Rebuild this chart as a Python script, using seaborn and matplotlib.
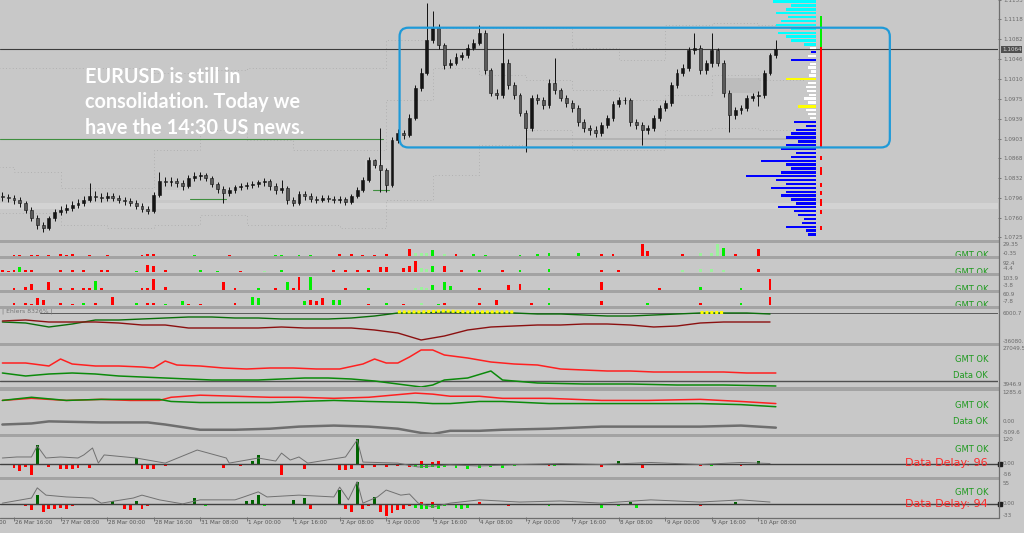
import numpy as np
import pandas as pd
import matplotlib
matplotlib.use("Agg")
import matplotlib.pyplot as plt
from matplotlib.patches import Rectangle, FancyBboxPatch
from matplotlib.lines import Line2D
import seaborn as sns

sns.set_theme(style="white")
plt.rcParams['font.family'] = ['DejaVu Sans']

# ---------------------------------------------------------------- data
time_labels = ["26 Mar 00:00", "26 Mar 16:00", "27 Mar 08:00", "28 Mar 00:00", "28 Mar 16:00",
               "31 Mar 08:00", "1 Apr 00:00", "1 Apr 16:00", "2 Apr 08:00", "3 Apr 00:00",
               "3 Apr 16:00", "4 Apr 08:00", "7 Apr 00:00", "7 Apr 16:00", "8 Apr 08:00",
               "9 Apr 00:00", "9 Apr 16:00", "10 Apr 08:00"]
time_label_bar = [-8, 0, 8, 16, 24, 32, 40, 48, 56, 64, 72, 80, 88, 96, 104, 112, 120, 128]

price_ticks = [1.1153, 1.1118, 1.1082, 1.1046, 1.1010, 1.0975, 1.0939, 1.0903,
               1.0868, 1.0832, 1.0796, 1.0760, 1.0725]
last_price = 1.1064

first_bar = -2
first_open = 1.0800
close = [1.0797, 1.0796, 1.0792, 1.0787, 1.0774, 1.0760, 1.0747, 1.0742, 1.0760, 1.0770,
         1.0774, 1.0778, 1.0783, 1.0787, 1.0792, 1.0799, 1.0797, 1.0796, 1.0799, 1.0796,
         1.0792, 1.0790, 1.0787, 1.0781, 1.0776, 1.0772, 1.0801, 1.0826, 1.0824, 1.0826,
         1.0823, 1.0817, 1.0832, 1.0835, 1.0837, 1.0832, 1.0821, 1.0812, 1.0805, 1.0810,
         1.0815, 1.0817, 1.0819, 1.0821, 1.0824, 1.0826, 1.0817, 1.0810, 1.0814, 1.0792,
         1.0787, 1.0803, 1.0799, 1.0794, 1.0792, 1.0796, 1.0794, 1.0792, 1.0794, 1.0788,
         1.0799, 1.0810, 1.0828, 1.0864, 1.0855, 1.0846, 1.0819, 1.0900, 1.0913, 1.0909,
         1.0941, 1.0994, 1.1022, 1.1080, 1.1102, 1.1071, 1.1035, 1.1040, 1.1051, 1.1053,
         1.1067, 1.1076, 1.1093, 1.1026, 1.0986, 1.0981, 1.1040, 1.0999, 1.0981, 1.0950,
         1.0922, 1.0976, 1.0972, 1.0963, 1.1004, 1.0990, 1.0976, 1.0967, 1.0958, 1.0932,
         1.0922, 1.0918, 1.0913, 1.0927, 1.0940, 1.0965, 1.0972, 1.0972, 1.0932, 1.0927,
         1.0918, 1.0922, 1.0940, 1.0958, 1.0967, 1.0999, 1.1022, 1.1030, 1.1062, 1.1066,
         1.1026, 1.1039, 1.1062, 1.1040, 1.0986, 1.0945, 1.0954, 1.0958, 1.0977, 1.0979,
         1.0981, 1.1022, 1.1053, 1.1064]
high = [1.0806, 1.0803, 1.0801, 1.0797, 1.0790, 1.0779, 1.0765, 1.0752, 1.0764, 1.0776,
        1.0781, 1.0785, 1.0790, 1.0794, 1.0799, 1.0823, 1.0808, 1.0804, 1.0806, 1.0805,
        1.0801, 1.0798, 1.0796, 1.0792, 1.0786, 1.0781, 1.0806, 1.0842, 1.0833, 1.0833,
        1.0832, 1.0828, 1.0838, 1.0842, 1.0843, 1.0841, 1.0836, 1.0825, 1.0817, 1.0816,
        1.0820, 1.0822, 1.0824, 1.0826, 1.0829, 1.0831, 1.0830, 1.0822, 1.0828, 1.0818,
        1.0797, 1.0808, 1.0809, 1.0804, 1.0800, 1.0801, 1.0801, 1.0799, 1.0799, 1.0798,
        1.0803, 1.0815, 1.0833, 1.0869, 1.0866, 1.0922, 1.0850, 1.0905, 1.0920, 1.0919,
        1.0947, 1.1000, 1.1030, 1.1147, 1.1134, 1.1110, 1.1076, 1.1047, 1.1057, 1.1060,
        1.1073, 1.1083, 1.1107, 1.1098, 1.1031, 1.0993, 1.1093, 1.1046, 1.1005, 1.0986,
        1.0955, 1.0982, 1.0984, 1.0978, 1.1010, 1.1049, 1.0995, 1.0982, 1.0973, 1.0963,
        1.0938, 1.0928, 1.0925, 1.0932, 1.0945, 1.0970, 1.0978, 1.0978, 1.0977, 1.0938,
        1.0932, 1.0928, 1.0945, 1.0963, 1.0973, 1.1005, 1.1028, 1.1037, 1.1068, 1.1093,
        1.1071, 1.1045, 1.1094, 1.1067, 1.1045, 1.0990, 1.0960, 1.0964, 1.0982, 1.0985,
        1.0988, 1.1027, 1.1058, 1.1080]
low = [1.0791, 1.0788, 1.0785, 1.0780, 1.0768, 1.0754, 1.0740, 1.0734, 1.0738, 1.0755,
       1.0765, 1.0769, 1.0772, 1.0777, 1.0781, 1.0788, 1.0790, 1.0789, 1.0790, 1.0790,
       1.0786, 1.0784, 1.0781, 1.0776, 1.0770, 1.0767, 1.0768, 1.0798, 1.0817, 1.0818,
       1.0816, 1.0810, 1.0813, 1.0827, 1.0829, 1.0826, 1.0815, 1.0805, 1.0787, 1.0799,
       1.0805, 1.0810, 1.0812, 1.0814, 1.0816, 1.0818, 1.0811, 1.0803, 1.0805, 1.0785,
       1.0781, 1.0783, 1.0793, 1.0789, 1.0787, 1.0788, 1.0789, 1.0787, 1.0787, 1.0783,
       1.0785, 1.0795, 1.0806, 1.0825, 1.0849, 1.0806, 1.0806, 1.0815, 1.0895, 1.0902,
       1.0905, 1.0937, 1.0988, 1.1017, 1.1075, 1.1064, 1.1028, 1.1030, 1.1035, 1.1045,
       1.1048, 1.1062, 1.1071, 1.1020, 1.0980, 1.0974, 1.0976, 1.0993, 1.0975, 1.0944,
       1.0878, 1.0917, 1.0965, 1.0956, 1.0958, 1.0984, 1.0970, 1.0960, 1.0951, 1.0926,
       1.0915, 1.0910, 1.0906, 1.0908, 1.0922, 1.0935, 1.0960, 1.0965, 1.0926, 1.0920,
       1.0891, 1.0912, 1.0917, 1.0935, 1.0952, 1.0962, 1.0994, 1.1016, 1.1025, 1.1055,
       1.1020, 1.1020, 1.1033, 1.1034, 1.0978, 1.0915, 1.0938, 1.0948, 1.0952, 1.0970,
       1.0962, 1.0976, 1.1017, 1.1048]

# step (pivot-like) dotted levels, one per 16h block starting at time_label_bar
dots_upper = [1.1030, 1.1030, 1.1030, 1.1030, 1.1022, 1.1026, 1.1031, 1.1031, 1.1031,
              1.1080, 1.1103, 1.1103, 1.1103, 1.1067, 1.1044, 1.1107, 1.1112, 1.1107]
dots_middle = [1.0851, 1.0842, 1.0814, 1.0814, 1.0882, 1.0918, 1.0900, 1.0882, 1.0882,
               1.0972, 1.1031, 1.1017, 1.1008, 1.0990, 1.0972, 1.0981, 1.1017, 1.1008]
dots_lower = [1.0769, 1.0769, 1.0747, 1.0742, 1.0747, 1.0765, 1.0747, 1.0747, 1.0742,
              1.0792, 1.0837, 1.0891, 1.0918, 1.0882, 1.0882, 1.0918, 1.0922, 1.0918]

support_line = 1.0902          # green line on the left
support_end_bar = 63.5
zone_band = (1.0776, 1.0787)   # light band across the chart
range_box_bars = (66.3, 150.6)
range_box_prices = (1.0887, 1.1103)
text_lines = ["EURUSD is still in", "consolidation. Today we", "have the 14:30 US news."]

# volume profile on the right
profile_top = 1.1150
profile_step = 0.0007
profile_volume = [43, 25, 30, 40, 28, 35, 40, 25, 38, 30, 25, 12, 6, 5, 8, 25, 6, 8, 5, 7,
                  30, 8, 10, 9, 7, 12, 8, 18, 10, 8, 6, 22, 10, 20, 25, 30, 18, 30, 35, 20,
                  25, 55, 30, 25, 35, 70, 40, 30, 45, 30, 35, 25, 20, 38, 22, 18, 12, 14, 30, 10, 8]
profile_kind = "cccccccccccc" + "wbwb" + "wwww" + "y" + "wwwwww" + "y" + "www" + "b" * 30
profile_dots = "...." + "gggggggg" + "r" * 26 + ".." + "r" + ".." + "rr" + ".." + "r" + "." + "r" + "." + "rr" + "." + "r" + "..." + "r"

# small histogram sub-windows: (bar, value, colour code)
p2_bars = [(0, 2, 'r'), (1, 2, 'r'), (3, 2, 'r'), (4, 1, 'r'), (6, 2, 'r'), (8, 3, 'r'), (9, 2, 'r'),
           (10, 3, 'r'), (13, 2, 'r'), (16, 2, 'r'), (22, 2, 'r'), (23, 3, 'r'), (24, 4, 'r'),
           (31, 2, 'g'), (37, 2, 'r'), (45, 2, 'g'), (46, 2, 'g'), (49, 2, 'g'), (51, 2, 'g'),
           (56, 3, 'r'), (58, 3, 'r'), (60, 2, 'r'), (62, 2, 'r'), (64, 3, 'r'), (68, 15, 'r'),
           (69, 6, 'l'), (70, 7, 'l'), (71, 6, 'l'), (72, 13, 'g'), (74, 4, 'l'), (76, 3, 'r'),
           (79, 3, 'g'), (81, 2, 'g'), (87, 2, 'g'), (90, 3, 'g'), (92, 6, 'g'), (97, 6, 'g'),
           (101, 4, 'r'), (103, 3, 'r'), (108, 26, 'r'), (109, 12, 'r'), (115, 3, 'r'),
           (118, 6, 'l'), (120, 7, 'l'), (121, 28, 'l'), (122, 18, 'g'), (124, 3, 'r'), (128, 16, 'r')]
p3_bars = [(-2, 13, 'r'), (-1, 10, 'r'), (0, 13, 'r'), (1, 39, 'g'), (2, 13, 'r'), (3, 13, 'r'),
           (8, 13, 'r'), (10, 19, 'r'), (12, 13, 'r'), (15, 13, 'r'), (16, 13, 'r'), (21, 10, 'g'),
           (23, 52, 'r'), (24, 45, 'r'), (26, 13, 'r'), (32, 13, 'g'), (35, 10, 'g'), (39, 10, 'r'),
           (43, 10, 'l'), (46, 19, 'g'), (55, 13, 'r'), (57, 19, 'r'), (59, 13, 'r'), (61, 16, 'r'),
           (63, 39, 'r'), (64, 39, 'r'), (67, 32, 'r'), (68, 45, 'r'), (69, 77, 'r'), (70, 32, 'l'),
           (71, 26, 'l'), (72, 45, 'g'), (74, 45, 'r'), (77, 13, 'r'), (80, 13, 'g'), (84, 19, 'r'),
           (87, 13, 'g'), (92, 26, 'g'), (101, 13, 'r'), (104, 19, 'r'), (115, 19, 'l'),
           (118, 26, 'l'), (120, 26, 'l'), (122, 19, 'l'), (128, 26, 'r')]
p4_bars = [(0, 8, 'r'), (2, 23, 'r'), (3, 46, 'r'), (6, 54, 'r'), (8, 15, 'r'), (10, 15, 'r'),
           (12, 8, 'r'), (13, 8, 'r'), (14, 69, 'g'), (15, 8, 'r'), (22, 15, 'r'), (23, 15, 'r'),
           (24, 77, 'r'), (26, 23, 'r'), (36, 54, 'r'), (38, 8, 'r'), (42, 8, 'g'), (45, 8, 'r'),
           (47, 54, 'g'), (48, 8, 'r'), (49, 100, 'r'), (51, 100, 'g'), (57, 15, 'r'), (61, 8, 'g'),
           (69, 15, 'l'), (70, 23, 'l'), (71, 15, 'l'), (72, 38, 'g'), (74, 61, 'g'), (75, 30, 'g'),
           (80, 15, 'r'), (85, 38, 'r'), (87, 46, 'r'), (92, 15, 'g'), (101, 61, 'r'), (111, 15, 'r'),
           (118, 23, 'g'), (125, 15, 'g'), (130, 77, 'r')]
p5_bars = [(0, 10, 'r'), (2, 10, 'r'), (3, 5, 'r'), (4, 32, 'r'), (5, 26, 'r'), (8, 10, 'r'),
           (10, 5, 'r'), (12, 10, 'g'), (14, 10, 'r'), (17, 42, 'r'), (21, 10, 'g'), (23, 10, 'r'),
           (24, 10, 'r'), (26, 5, 'g'), (29, 21, 'g'), (30, 5, 'r'), (32, 5, 'r'), (38, 10, 'r'),
           (41, 42, 'g'), (42, 32, 'g'), (50, 21, 'g'), (51, 26, 'r'), (52, 16, 'r'), (53, 37, 'r'),
           (55, 26, 'g'), (56, 26, 'g'), (61, 5, 'r'), (64, 10, 'g'), (67, 5, 'r'), (70, 10, 'l'),
           (73, 5, 'g'), (74, 10, 'r'), (80, 10, 'r'), (83, 26, 'r'), (89, 10, 'r'), (92, 10, 'g'),
           (101, 16, 'r'), (109, 10, 'g'), (118, 10, 'r'), (125, 10, 'g'), (130, 42, 'r')]

# Ehlers window (two lines, sampled every 4 bars)
p6_bar = [-2, 2, 6, 10, 14, 18, 22, 26, 30, 34, 38, 42, 46, 50, 54, 58, 62, 66, 70, 74, 78,
          82, 86, 90, 94, 98, 102, 106, 110, 114, 118, 122, 126, 130]
p6_green = [-7058, -8509, -14313, -9960, -4156, -4156, -2705, -1254, 197, 197, -1254, -1254,
            -2705, -2705, -2705, -1254, 1648, 6001, 6001, 7452, 6001, 6001, 6001, 4550, 4550,
            3099, 1648, 1648, 3099, 4550, 6001, 6001, 6001, 4550]
p6_red = [-5607, -4156, -7058, -7058, -7058, -8509, -11411, -11411, -15764, -15764, -15764,
          -15764, -14313, -15764, -15764, -15764, -18666, -23019, -33176, -27372, -18666,
          -14313, -12862, -11411, -11411, -9960, -9960, -11411, -14313, -12862, -8509, -7058,
          -7058, -7058]
p6_level = 6000.7

p7_red_bar = [-2, 2, 6, 8, 10, 14, 18, 22, 24, 26, 28, 32, 36, 40, 44, 48, 52, 56, 60, 62, 64,
              66, 68, 70, 72, 74, 78, 82, 86, 90, 94, 98, 102, 106, 110, 114, 118, 122, 126, 131]
p7_red = [17321, 17321, 15497, 19753, 16713, 15497, 15497, 14889, 14281, 18537, 16105, 15497,
          14281, 13673, 14281, 14281, 13673, 13673, 16713, 19753, 17321, 17321, 20969, 25225,
          25225, 22185, 20361, 17929, 16713, 16105, 13673, 13065, 12457, 12457, 11849, 11849,
          11849, 11849, 11241, 11241]
p7_green_bar = [-2, 2, 6, 10, 14, 18, 22, 26, 30, 34, 38, 42, 46, 50, 54, 58, 62, 66, 70, 72,
                74, 78, 82, 84, 90, 98, 106, 114, 122, 131]
p7_green = [11241, 9417, 10633, 11241, 10633, 9417, 8809, 8201, 7593, 6985, 6985, 6985, 7593,
            8201, 8201, 7593, 6377, 4553, 2729, 3945, 6985, 8201, 12457, 6985, 5161, 4553, 4553,
            3945, 3945, 3337]
p7_level = 6377

p8_bar = [-2, 3, 9, 15, 20, 25, 27, 32, 38, 44, 49, 55, 61, 69, 72, 75, 80, 84, 92, 101, 109,
          118, 125, 131]
p8_red = [918, 1010, 918, 964, 918, 918, 1056, 1148, 1102, 1056, 1056, 1010, 1056, 1240, 1194,
          1102, 1102, 1010, 1010, 918, 918, 964, 872, 780]
p8_green = [918, 1056, 918, 964, 964, 964, 872, 826, 826, 826, 872, 918, 872, 826, 780, 780,
            872, 872, 780, 780, 780, 780, 734, 642]
p8_grey_bar = [-2, 3, 6, 15, 23, 26, 32, 38, 44, 49, 55, 61, 66, 70, 72, 75, 80, 84, 92, 101,
               109, 118, 125, 131]
p8_grey = [-140, -94, -2, -48, -48, -140, -370, -370, -324, -232, -186, -232, -324, -508, -554,
           -416, -416, -370, -324, -232, -232, -232, -186, -278]

p9_bars = [(0, -20, 'r'), (1, -39, 'r'), (2, -15, 'r'), (3, -54, 'r'), (4, 93, 'd'), (6, -15, 'r'),
           (8, -29, 'r'), (9, -29, 'r'), (10, -25, 'r'), (11, -20, 'r'), (13, -20, 'r'),
           (21, 29, 'd'), (22, -29, 'r'), (23, -29, 'r'), (24, -25, 'r'), (26, -10, 'r'),
           (36, -20, 'r'), (39, -10, 'r'), (41, 10, 'd'), (42, 44, 'd'), (46, -54, 'r'),
           (50, -25, 'r'), (56, -34, 'r'), (57, -34, 'r'), (58, -25, 'r'), (59, 118, 'd'),
           (60, -20, 'r'), (62, -15, 'r'), (64, -15, 'r'), (66, -10, 'r'), (68, -15, 'r'),
           (69, -15, 'g'), (70, -20, 'g'), (71, -20, 'g'), (72, -15, 'g'), (73, -20, 'g'),
           (74, -15, 'g'), (70, 10, 'r'), (72, 8, 'r'), (73, 10, 'r'), (76, -20, 'g'),
           (78, -25, 'g'), (80, -20, 'g'), (82, -15, 'g'), (84, -20, 'g'), (86, -10, 'g'),
           (92, -10, 'r'), (93, -10, 'g'), (101, -15, 'r'), (104, 10, 'd'), (108, -20, 'r'),
           (118, -10, 'r'), (120, -10, 'g'), (125, -10, 'r'), (128, 10, 'd')]
p9_line_bar = [-2, 0.5, 3, 4, 5.5, 8, 11, 12, 13.5, 14.5, 15.5, 21, 26, 31.5, 36.5, 37, 42, 45,
               46, 47.5, 49, 50.5, 57, 59, 60, 66, 69.5, 72, 75, 80, 87, 94, 101, 109.5, 118, 125, 130]
p9_line = [27, 32, 32, 86, 27, 32, 27, 42, 76, 2, 42, 27, 2, 66, 27, 2, 27, 12, 51, 17, 32, 2,
           32, 115, 7, 2, -17, -12, -7, -12, -5, 0, -5, 5, -5, 5, 0]

p10_bars = [(-1, -3, 'r'), (1, -3, 'r'), (2, -8, 'r'), (3, -19, 'r'), (4, 22, 'd'), (5, -22, 'r'),
            (6, -14, 'r'), (7, -14, 'r'), (8, -11, 'r'), (9, -14, 'r'), (10, -8, 'r'), (11, -5, 'r'),
            (13, -3, 'r'), (15, -5, 'r'), (17, 8, 'd'), (19, -14, 'r'), (20, -19, 'r'), (21, 8, 'd'),
            (22, -16, 'r'), (23, -8, 'r'), (25, -5, 'r'), (27, -5, 'r'), (29, -5, 'g'), (30, -5, 'g'),
            (31, 16, 'd'), (32, -3, 'r'), (33, -8, 'g'), (36, -5, 'r'), (38, -3, 'r'), (40, 8, 'd'),
            (41, 11, 'd'), (42, 22, 'd'), (43, -8, 'g'), (44, -3, 'r'), (46, -5, 'r'), (48, 11, 'd'),
            (50, 14, 'd'), (51, -14, 'r'), (56, 36, 'd'), (57, -16, 'r'), (58, -22, 'r'), (59, 60, 'd'),
            (60, -14, 'r'), (61, -8, 'r'), (62, 19, 'd'), (63, -22, 'r'), (64, -33, 'r'), (65, -27, 'r'),
            (66, -19, 'r'), (67, -14, 'r'), (68, -8, 'r'), (69, -11, 'g'), (70, -14, 'g'), (71, -14, 'g'),
            (72, -11, 'g'), (73, -14, 'g'), (74, -8, 'g'), (70, 5, 'r'), (72, 5, 'r'), (76, -11, 'g'),
            (77, -16, 'g'), (78, -11, 'g'), (80, 5, 'r'), (84, -5, 'r'), (85, -8, 'r'), (92, -8, 'g'),
            (101, -11, 'g'), (104, -8, 'g'), (106, 5, 'd'), (107, -11, 'g'), (114, -5, 'r'),
            (118, -8, 'r'), (120, -5, 'r'), (124, 3, 'd'), (128, -5, 'r')]
p10_line_bar = [-2, 3, 4, 5.5, 9, 13.5, 15, 20.5, 22, 25, 29, 32, 38, 39.5, 42, 43.5, 49, 55, 56,
                57.5, 59, 60, 62.5, 64, 66.5, 68, 69.5, 72, 75, 80, 87, 94, 101, 109.5, 118, 125, 130]
p10_line = [1, 15, 43, 23, 18, 15, 1, 15, 23, 10, -1, 10, 10, 18, 32, 18, 23, 18, 45, 10, 60, 1,
            18, 37, 23, 26, 1, -10, 1, 10, 4, 7, 1, 10, 4, 10, 4]

# ---------------------------------------------------------------- styling
W, H = 1024, 533
BG = '#c8c8c8'
SEP = '#a3a3a3'
AXC = '#6a6a6a'
LBL = 4.1
PLOT_R = 998
XMIN, XMAX = -2.41, 169.2
BAR_COL = {'r': '#ff0000', 'g': '#00ee00', 'l': '#9cf29c', 'd': '#006400'}

fig = plt.figure(figsize=(W / 100, H / 100), dpi=100, facecolor=BG)


def add_panel(top, bottom):
    ax = fig.add_axes([0, 1 - bottom / H, PLOT_R / W, (bottom - top) / H])
    ax.set_facecolor(BG)
    for s in ax.spines.values():
        s.set_visible(False)
    ax.set_xlim(XMIN, XMAX)
    ax.set_xticks([])
    ax.set_yticks([])
    return ax


def rlabel(ax, y, txt, axes_frac=False):
    tr = ax.transAxes if axes_frac else ax.get_yaxis_transform()
    ax.text(1.0045, y, txt, transform=tr, fontsize=LBL, color=AXC,
            va='center', ha='left', clip_on=False)


def status(ax, yfrac, txt, color='#1f9a1f', size=6.0):
    ax.text(0.99, yfrac, txt, transform=ax.transAxes, ha='right', va='center',
            fontsize=size, color=color, clip_on=True)


def hist(ax, bars, width=0.5):
    df = pd.DataFrame(bars, columns=['bar', 'value', 'c'])
    ax.bar(df['bar'], df['value'], width=width, color=[BAR_COL[c] for c in df['c']], linewidth=0)


# ---------------------------------------------------------------- main chart
ax1 = add_panel(0, 240)
ax1.set_ylim(1.0720, 1.1153)
bars = np.arange(first_bar, first_bar + len(close))
c = np.array(close)
o = np.concatenate([[first_open], c[:-1]])
hi = np.array(high)
lo = np.array(low)

ax1.axhspan(zone_band[0], zone_band[1], color='#d3d3d3', lw=0, zorder=0)
ax1.fill_between([88, 137.5], 1.0900, 1.0904, color='#b3b3b3', lw=0, zorder=0)
ax1.fill_between([122, 128.4], 1.0985, 1.1013, color='#bcbcbc', lw=0, zorder=0)
ax1.fill_between([24, 32], 1.0792, 1.0810, color='#d0d0d0', lw=0, zorder=0)
ax1.fill_between([60.4, 64.7], 1.0846, 1.0864, color='#d0d0d0', lw=0, zorder=0)

step_x = time_label_bar + [136]
for lvl in (dots_upper, dots_middle, dots_lower):
    sns.lineplot(x=step_x, y=lvl + [lvl[-1]], ax=ax1, color='#a9a9a9', lw=0.6,
                 linestyle=(0, (1, 3)), drawstyle='steps-post', legend=False)

ax1.plot([XMIN, support_end_bar], [support_line, support_line], color='#3f8f3f', lw=0.8)
ax1.plot([30.3, 36.5], [1.0794, 1.0794], color='#3f8f3f', lw=0.8)
ax1.plot([61.8, 64.4], [1.0810, 1.0810], color='#3f8f3f', lw=0.8)
ax1.axhline(last_price, color='#3c3c3c', lw=0.8)

up = c >= o
ax1.vlines(bars, lo, hi, color='#111111', lw=0.7, zorder=3)
body = np.where(np.abs(c - o) < 0.00006, 0.00006, c - o)
ax1.bar(bars, body, bottom=o, width=0.5, color=np.where(up, '#151515', '#5a5a5a'),
        edgecolor='#111111', linewidth=0.4, zorder=4)

# volume profile + dot column
prof_levels = profile_top - profile_step * np.arange(len(profile_volume))
kind_col = {'c': '#00ffff', 'b': '#0000ff', 'w': '#ffffff', 'y': '#ffff00'}
PX = 1 / 5.81
PROFILE_RIGHT = 137.9
ax1.barh(prof_levels, width=-np.array(profile_volume) * PX, left=PROFILE_RIGHT,
         height=profile_step * 0.6, color=[kind_col[k] for k in profile_kind], lw=0, zorder=2)
dot_col = {'g': '#00ee00', 'r': '#ff0000'}
for lvl, d in zip(prof_levels, profile_dots):
    if d in dot_col:
        ax1.scatter([138.8], [lvl], marker='s', s=2.5, color=dot_col[d], lw=0, zorder=5)
        ax1.scatter([138.8], [lvl - profile_step / 2], marker='s', s=2.5, color=dot_col[d], lw=0, zorder=5)

box = FancyBboxPatch((range_box_bars[0], range_box_prices[0]),
                     range_box_bars[1] - range_box_bars[0],
                     range_box_prices[1] - range_box_prices[0],
                     boxstyle="round,pad=0,rounding_size=1.5", mutation_aspect=0.001046,
                     fill=False, edgecolor='#1f9ad8', lw=1.6, zorder=6)
ax1.add_patch(box)

ax1.yaxis.tick_right()
ax1.set_yticks(price_ticks)
ax1.set_yticklabels([f"{p:.4f}" for p in price_ticks])
ax1.tick_params(axis='y', length=2.5, width=0.6, color=AXC, labelcolor=AXC,
                labelsize=LBL, pad=1.5, right=True)
ax1.text(1.004, last_price, f"{last_price:.4f}", transform=ax1.get_yaxis_transform(),
         fontsize=LBL, color='#d8d8d8', va='center', ha='left',
         bbox=dict(boxstyle='square,pad=0.15', fc='#505050', ec='none'), clip_on=False, zorder=10)

for line, base in zip(text_lines, [83, 108.5, 134]):
    fig.text(85 / W, 1 - base / H, line, color='white', fontsize=14.3, fontweight='bold',
             family=['Lato', 'DejaVu Sans'], va='baseline', ha='left')

# ---------------------------------------------------------------- small histogram windows
for (top, bottom), bars_, ylim, labs, gy in [
        ((243, 256), p2_bars, (-0.5, 29.35), ("29.35", "-0.35"), (0.85, 0.23)),
        ((259, 273), p3_bars, (-4.4, 92.4), ("92.4", "-4.4"), (0.71, 0.29)),
        ((276, 290), p4_bars, (-3.8, 103.9), ("103.9", "-3.8"), (0.79, 0.29)),
        ((293, 306), p5_bars, (-7.8, 60.9), ("60.9", "-7.8"), (0.85, 0.31))]:
    ax = add_panel(top, bottom)
    ax.set_ylim(*ylim)
    hist(ax, bars_)
    rlabel(ax, gy[0], labs[0], axes_frac=True)
    rlabel(ax, gy[1], labs[1], axes_frac=True)
    status(ax, 0.05, "GMT OK")

# Ehlers window
ax6 = add_panel(309, 343)
ax6.set_ylim(-37531, 11805)
ax6.plot([4.5, XMAX], [p6_level, p6_level], color='#5a5a5a', lw=0.7)
sns.lineplot(x=p6_bar, y=p6_green, ax=ax6, color='#0a6e0a', lw=1.0, legend=False)
sns.lineplot(x=p6_bar, y=p6_red, ax=ax6, color='#8b1010', lw=1.0, legend=False)
hl = [(b, v) for b, v in zip(p6_bar, p6_green) if 66 <= b <= 86 or 118 <= b <= 122]
ax6.plot([b for b, _ in hl[:6]], [v + 1500 for _, v in hl[:6]], color='#ffff00', lw=2.2,
         linestyle=(0, (1, 0.6)))
ax6.plot([b for b, _ in hl[6:]], [v + 1500 for _, v in hl[6:]], color='#ffff00', lw=2.2,
         linestyle=(0, (1, 0.6)))
ax6.text(0.002, 0.92, "| Ehlers 8326% |", transform=ax6.transAxes, fontsize=4.4,
         color='#777777', va='center', ha='left')
rlabel(ax6, 6000.7, "6000.7")
rlabel(ax6, -35000, "-36080.")

# window 7
ax7 = add_panel(346, 387)
ax7.set_ylim(2729, 27657)
ax7.axhline(p7_level, color='#505050', lw=1.0)
sns.lineplot(x=p7_red_bar, y=p7_red, ax=ax7, color='#ff2020', lw=1.1, legend=False)
sns.lineplot(x=p7_green_bar, y=p7_green, ax=ax7, color='#0b8a0b', lw=1.1, legend=False)
rlabel(ax7, 26200, "27049.5")
rlabel(ax7, 3946.9, "3946.9")
status(ax7, 0.68, "GMT OK")
status(ax7, 0.27, "Data OK")

# window 8
ax8 = add_panel(391, 434)
ax8.set_ylim(-556, 1331.6)
sns.lineplot(x=p8_bar, y=p8_red, ax=ax8, color='#ff2020', lw=1.1, legend=False)
sns.lineplot(x=p8_bar, y=p8_green, ax=ax8, color='#0b8a0b', lw=1.1, legend=False)
sns.lineplot(x=p8_grey_bar, y=p8_grey, ax=ax8, color='#6e6e6e', lw=1.8, legend=False)
rlabel(ax8, 1285.6, "1285.6")
rlabel(ax8, 0, "0.00")
rlabel(ax8, -509.6, "-509.6")
status(ax8, 0.67, "GMT OK")
status(ax8, 0.30, "Data OK")

# window 9
ax9 = add_panel(437, 477)
ax9.set_ylim(-66, 129.8)
hist(ax9, p9_bars)
ax9.axhline(0, color='#404040', lw=1.0)
sns.lineplot(x=p9_line_bar, y=p9_line, ax=ax9, color='#707070', lw=0.7, legend=False)
rlabel(ax9, 120, "120")
rlabel(ax9, 0, "0.00")
rlabel(ax9, -56, "-56")
ax9.plot([1.0025], [0], marker='s', ms=3.4, color='#1c1c1c', transform=ax9.get_yaxis_transform(),
         clip_on=False)
status(ax9, 0.675, "GMT OK")
status(ax9, 0.35, "Data Delay: 96", color='#ff2a2a', size=8)

# window 10
ax10 = add_panel(480, 517)
ax10.set_ylim(-37.1, 64.6)
hist(ax10, p10_bars)
ax10.axhline(0, color='#404040', lw=1.0)
sns.lineplot(x=p10_line_bar, y=p10_line, ax=ax10, color='#707070', lw=0.7, legend=False)
rlabel(ax10, 55, "55")
rlabel(ax10, 0, "0.00")
rlabel(ax10, -33, "-33")
ax10.plot([1.0025], [0], marker='s', ms=3.4, color='#1c1c1c', transform=ax10.get_yaxis_transform(),
          clip_on=False)
status(ax10, 0.65, "GMT OK")
status(ax10, 0.35, "Data Delay: 94", color='#ff2a2a', size=8)

# time axis
ax10.set_xticks([b for b in time_label_bar if XMIN <= b <= XMAX])
ax10.tick_params(axis='x', bottom=True, length=3, width=0.6, color=AXC, labelbottom=False)
for b, lab in zip(time_label_bar, time_labels):
    ax10.text(b + 0.2, -0.08, lab, transform=ax10.get_xaxis_transform(), fontsize=LBL,
              color='#555555', ha='left', va='top', clip_on=False)

# separators and axis frame lines
for y0, y1 in [(240, 243), (256, 259), (273, 276), (290, 293), (306, 309), (343, 346),
               (387, 391), (434, 437), (477, 480)]:
    fig.add_artist(Rectangle((0, 1 - y1 / H), 999 / W, (y1 - y0) / H, transform=fig.transFigure,
                             color=SEP, lw=0, zorder=20))
fig.add_artist(Line2D([999 / W, 999 / W], [1 - 517.5 / H, 1], transform=fig.transFigure,
                      color='#6e6e6e', lw=0.9, zorder=21))
fig.add_artist(Line2D([0, 999 / W], [1 - 517.5 / H, 1 - 517.5 / H], transform=fig.transFigure,
                      color='#6e6e6e', lw=0.9, zorder=21))

fig.savefig("out.png", dpi=100, facecolor=BG)
